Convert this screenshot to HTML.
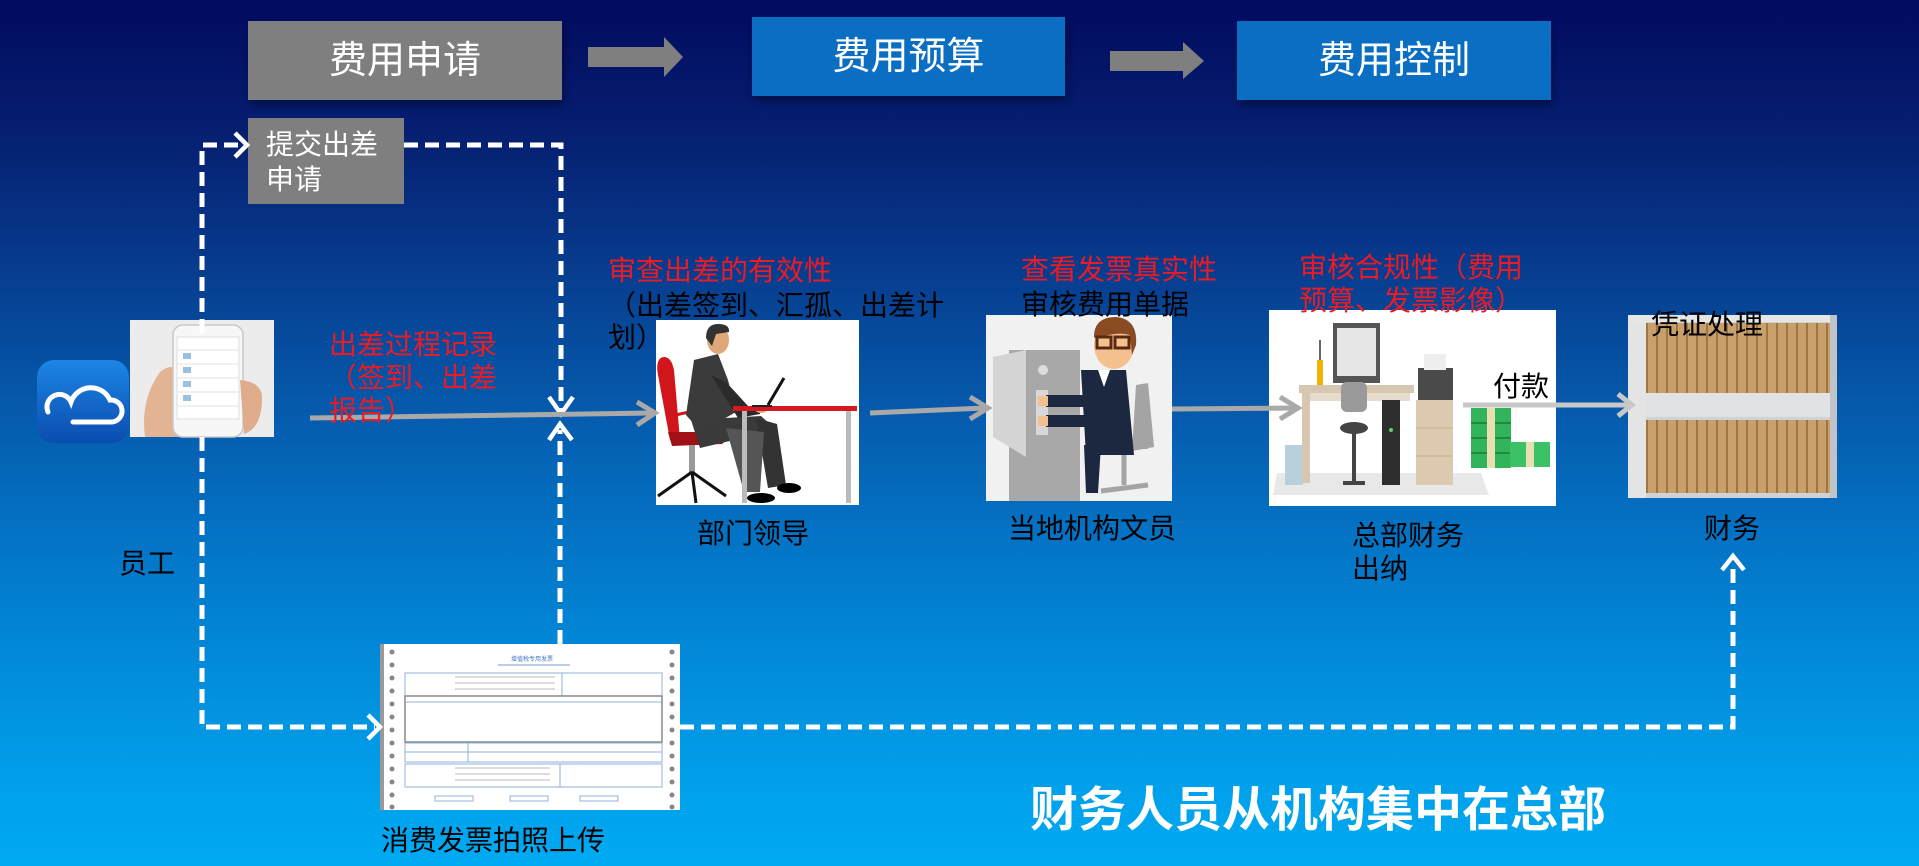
<!DOCTYPE html>
<html><head><meta charset="utf-8">
<style>
html,body{margin:0;padding:0;}
body{width:1919px;height:866px;overflow:hidden;position:relative;
background:linear-gradient(to bottom,#020b5f 0%,#061e70 15%,#073a8c 30%,#0656a8 45%,#0470c2 60%,#0288d8 75%,#019fea 90%,#00aaf2 100%);
font-family:"Liberation Sans","Noto Sans CJK SC",sans-serif;}
.box{position:absolute;display:flex;align-items:center;justify-content:center;color:#fff;font-size:38px;line-height:1;box-shadow:2px 5px 7px rgba(0,0,0,0.35);}
.t{position:absolute;font-size:28px;line-height:1;white-space:nowrap;color:#000;}
.r{color:#ea1b24;}
.w{color:#fff;}
svg{position:absolute;left:0;top:0;}
</style></head>
<body>
<div class="box" style="left:248px;top:21px;width:314px;height:79px;background:#7f7f7f;">费用申请</div>
<div class="box" style="left:752px;top:17px;width:313px;height:79px;background:#0a6fc2;">费用预算</div>
<div class="box" style="left:1237px;top:21px;width:314px;height:79px;background:#0a6fc2;">费用控制</div>
<div class="box" style="left:248px;top:118px;width:156px;height:86px;background:#7f7f7f;box-shadow:none;"></div>

<svg width="1919" height="866" viewBox="0 0 1919 866">
<defs>
<linearGradient id="cg" x1="0" y1="0" x2="0" y2="1"><stop offset="0" stop-color="#1c86e6"/><stop offset="1" stop-color="#0a4cae"/></linearGradient>
<pattern id="books" width="10" height="80" patternUnits="userSpaceOnUse"><rect width="10" height="80" fill="#c9a06c"/><rect x="8" width="2" height="80" fill="#9e7644"/></pattern>
</defs>
<!-- top block arrows -->
<polygon points="588,47 664,47 664,37 683,57 664,77 664,67 588,67" fill="#7f7f7f"/>
<polygon points="1110,51 1183,51 1183,42 1204,61 1183,79 1183,71 1110,71" fill="#7f7f7f"/>

<!-- cloud icon -->
<rect x="37" y="360" width="92" height="83" rx="17" fill="url(#cg)"/>
<path d="M48,412 A12,12 0 0 1 71,402 A21,21 0 0 1 110,400 A11,11 0 0 1 112,422 L73,422" fill="none" stroke="#fff" stroke-width="5" stroke-linecap="round"/>

<!-- phone photo -->
<rect x="130" y="320" width="144" height="117" fill="#ececec"/>
<path d="M145,437 Q140,400 160,372 Q172,362 180,372 L180,437 Z" fill="#e3b493"/>
<rect x="173" y="325" width="70" height="112" rx="10" fill="#f7f7f7" stroke="#c8c8c8" stroke-width="1.5"/>
<rect x="177" y="337" width="62" height="82" fill="#fff" stroke="#ddd"/>
<g stroke="#e2e2e2"><line x1="177" y1="350" x2="239" y2="350"/><line x1="177" y1="364" x2="239" y2="364"/><line x1="177" y1="378" x2="239" y2="378"/><line x1="177" y1="392" x2="239" y2="392"/><line x1="177" y1="406" x2="239" y2="406"/></g>
<g fill="#9cc0e0"><rect x="183" y="353" width="8" height="6"/><rect x="183" y="367" width="8" height="6"/><rect x="183" y="381" width="8" height="6"/><rect x="183" y="395" width="8" height="6"/></g>
<path d="M240,380 Q262,382 262,398 Q262,428 244,434 Z" fill="#e0ad8c"/>

<!-- 部门领导 image -->
<g transform="translate(656,320)">
<rect width="203" height="185" fill="#fff"/>
<path d="M8,37 C2,37 0,45 2,55 L14,120 L24,120 L18,50 C16,40 12,37 8,37 Z" fill="#d0161b"/>
<path d="M12,112 L70,112 Q74,118 66,124 L16,126 Z" fill="#a01015"/>
<path d="M20,95 Q60,84 64,112" stroke="#d0161b" stroke-width="3" fill="none"/>
<rect x="33" y="125" width="6" height="28" fill="#999"/>
<g stroke="#111" stroke-width="3"><line x1="36" y1="152" x2="2" y2="176"/><line x1="36" y1="152" x2="70" y2="176"/><line x1="36" y1="152" x2="40" y2="183"/></g>
<polygon points="35,100 105,96 120,110 44,128" fill="#3a3a3a"/>
<polygon points="100,98 121,104 130,165 112,168" fill="#333"/>
<polygon points="70,108 108,112 104,172 88,172" fill="#555"/>
<ellipse cx="133" cy="168" rx="12" ry="5" fill="#000"/>
<ellipse cx="105" cy="178" rx="14" ry="5" fill="#000"/>
<polygon points="38,40 62,34 72,60 80,92 45,112 30,95" fill="#3b3b3b"/>
<polygon points="55,55 70,62 92,86 104,86 104,94 82,98" fill="#2b2b2b"/>
<ellipse cx="105" cy="89" rx="6" ry="4" fill="#e0a878"/>
<ellipse cx="62" cy="20" rx="11" ry="14" fill="#e0a878"/>
<path d="M50,18 Q50,4 62,4 Q74,4 73,12 L60,14 L56,26 Z" fill="#333"/>
<rect x="77" y="86" width="124" height="5" fill="#d51a1f"/>
<rect x="86" y="91" width="5" height="92" fill="#bbb"/>
<rect x="190" y="91" width="5" height="92" fill="#bbb"/>
<line x1="112" y1="85" x2="128" y2="58" stroke="#111" stroke-width="3"/>
<line x1="96" y1="86" x2="116" y2="86" stroke="#222" stroke-width="2"/>
</g>

<!-- 当地机构文员 image -->
<g transform="translate(986,315)">
<rect width="186" height="186" fill="#f1f1f1"/>
<rect x="23" y="35" width="71" height="151" fill="#a8a8a8"/>
<polygon points="7,42 40,35 40,142 7,122" fill="#d4d4d4"/>
<circle cx="57" cy="55" r="5" fill="#dcdcdc"/>
<rect x="50" y="75" width="12" height="45" fill="#d8d8d8"/>
<polygon points="150,70 162,68 168,132 146,136" fill="#a4a4a4"/>
<rect x="108" y="124" width="54" height="10" fill="#a4a4a4"/>
<line x1="138" y1="134" x2="138" y2="170" stroke="#a4a4a4" stroke-width="5"/>
<line x1="115" y1="176" x2="162" y2="170" stroke="#a4a4a4" stroke-width="5"/>
<polygon points="95,55 140,55 148,140 100,140" fill="#1b2840"/>
<rect x="60" y="80" width="40" height="12" fill="#1b2840"/>
<rect x="60" y="100" width="40" height="12" fill="#1b2840"/>
<rect x="52" y="81" width="10" height="10" fill="#f4c08e"/>
<rect x="52" y="101" width="10" height="10" fill="#f4c08e"/>
<polygon points="98,130 115,130 112,178 100,178" fill="#1b2840"/>
<polygon points="112,55 124,55 118,72" fill="#fff"/>
<ellipse cx="128" cy="30" rx="20" ry="24" fill="#f4c08e"/>
<path d="M108,22 Q108,2 130,2 Q152,4 150,30 L146,40 L144,20 Q130,16 110,24 Z" fill="#8a4a22"/>
<rect x="111" y="22" width="14" height="11" fill="none" stroke="#5a2a10" stroke-width="3"/>
<rect x="129" y="22" width="14" height="11" fill="none" stroke="#5a2a10" stroke-width="3"/>
</g>

<!-- 总部财务 image -->
<g transform="translate(1269,310)">
<rect width="287" height="196" fill="#fff"/>
<polygon points="8,163 212,163 220,185 4,185" fill="#e8e8e8"/>
<rect x="16" y="135" width="18" height="40" fill="#b8d0dc"/>
<rect x="30" y="75" width="115" height="8" fill="#d8c7b0"/>
<rect x="33" y="83" width="8" height="90" fill="#d8c7b0"/>
<rect x="41" y="83" width="100" height="8" fill="#e6dccd"/>
<rect x="64" y="13" width="47" height="60" fill="#555"/>
<rect x="68" y="18" width="39" height="48" fill="#e6e6e6"/>
<rect x="48" y="50" width="6" height="25" fill="#f0b400"/>
<line x1="51" y1="50" x2="51" y2="30" stroke="#333" stroke-width="1.5"/>
<rect x="72" y="72" width="26" height="30" rx="6" fill="#9a9a9a"/>
<ellipse cx="85" cy="118" rx="14" ry="6" fill="#444"/>
<rect x="83" y="118" width="4" height="55" fill="#444"/>
<rect x="74" y="171" width="22" height="4" fill="#444"/>
<rect x="113" y="90" width="18" height="85" fill="#2e2e2e"/>
<circle cx="122" cy="120" r="2" fill="#6c6"/>
<rect x="147" y="90" width="37" height="85" fill="#dcc9af"/>
<g stroke="#c4ae90"><line x1="147" y1="118" x2="184" y2="118"/><line x1="147" y1="146" x2="184" y2="146"/></g>
<rect x="149" y="58" width="35" height="32" fill="#4a4a4a"/>
<rect x="155" y="44" width="22" height="16" fill="#eee"/>
<rect x="202" y="98" width="40" height="60" fill="#32b45a"/>
<g stroke="#1e8a40" stroke-width="2"><line x1="202" y1="113" x2="242" y2="113"/><line x1="202" y1="128" x2="242" y2="128"/><line x1="202" y1="143" x2="242" y2="143"/></g>
<rect x="218" y="98" width="8" height="60" fill="#e8e0b0"/>
<rect x="241" y="132" width="40" height="25" fill="#3cc266"/>
<rect x="257" y="132" width="8" height="25" fill="#e8e0b0"/>
</g>

<!-- 凭证处理 image -->
<g transform="translate(1628,315)">
<rect width="209" height="183" fill="#cfd3d6"/>
<rect x="18" y="8" width="186" height="70" fill="url(#books)"/>
<rect x="12" y="105" width="190" height="73" fill="url(#books)"/>
<rect x="0" y="78" width="209" height="24" fill="#e0e2e4"/>
<rect x="0" y="0" width="18" height="183" fill="#e4e4e4"/>
<rect x="0" y="0" width="209" height="7" fill="#e6e6e6"/>
<rect x="202" y="0" width="7" height="183" fill="#c0c4c8"/>
</g>

<!-- invoice -->
<g transform="translate(380,644)">
<rect width="300" height="166" fill="#fff"/>
<rect x="0" y="0" width="4" height="166" fill="#999"/>
<g fill="#888">
<circle cx="12" cy="8" r="2.5"/><circle cx="12" cy="21" r="2.5"/><circle cx="12" cy="34" r="2.5"/><circle cx="12" cy="47" r="2.5"/><circle cx="12" cy="60" r="2.5"/><circle cx="12" cy="73" r="2.5"/><circle cx="12" cy="86" r="2.5"/><circle cx="12" cy="99" r="2.5"/><circle cx="12" cy="112" r="2.5"/><circle cx="12" cy="125" r="2.5"/><circle cx="12" cy="138" r="2.5"/><circle cx="12" cy="151" r="2.5"/><circle cx="12" cy="163" r="2.5"/>
<circle cx="292" cy="8" r="2.5"/><circle cx="292" cy="21" r="2.5"/><circle cx="292" cy="34" r="2.5"/><circle cx="292" cy="47" r="2.5"/><circle cx="292" cy="60" r="2.5"/><circle cx="292" cy="73" r="2.5"/><circle cx="292" cy="86" r="2.5"/><circle cx="292" cy="99" r="2.5"/><circle cx="292" cy="112" r="2.5"/><circle cx="292" cy="125" r="2.5"/><circle cx="292" cy="138" r="2.5"/><circle cx="292" cy="151" r="2.5"/><circle cx="292" cy="163" r="2.5"/>
</g>
<text x="152" y="17" font-size="6" fill="#4a78c0" text-anchor="middle" font-family="Noto Sans CJK SC, sans-serif">增值税专用发票</text>
<line x1="118" y1="21" x2="190" y2="21" stroke="#7a9ad0"/>
<g fill="none" stroke="#8fb0d8" stroke-width="1">
<rect x="25" y="29" width="257" height="23"/>
<line x1="182" y1="29" x2="182" y2="52"/>
<rect x="25" y="52" width="257" height="46" stroke="#888" stroke-width="1.5"/>
<line x1="25" y1="58" x2="282" y2="58"/>
<rect x="25" y="99" width="257" height="19"/>
<line x1="25" y1="108" x2="282" y2="108"/>
<line x1="88" y1="99" x2="88" y2="118"/>
<rect x="25" y="120" width="257" height="23"/>
<line x1="180" y1="120" x2="180" y2="143"/>
<rect x="55" y="152" width="38" height="5"/><rect x="130" y="152" width="38" height="5"/><rect x="200" y="152" width="38" height="5"/>
</g>
<g stroke="#bbb"><line x1="75" y1="33" x2="175" y2="33"/><line x1="75" y1="39" x2="175" y2="39"/><line x1="75" y1="45" x2="175" y2="45"/><line x1="75" y1="124" x2="170" y2="124"/><line x1="75" y1="130" x2="170" y2="130"/><line x1="75" y1="136" x2="170" y2="136"/></g>
</g>

<!-- dashed connectors -->
<g fill="none" stroke="#fff" stroke-width="5" stroke-dasharray="14 7">
<polyline points="202,333 202,145 240,145"/>
<polyline points="404,145 561,145 561,410"/>
<polyline points="560,644 560,430"/>
<polyline points="202,437 202,727 375,727"/>
<polyline points="680,727 1733,727 1733,562"/>
</g>
<g fill="none" stroke="#fff" stroke-width="4.5" stroke-linejoin="miter">
<polyline points="235,133 247,145 235,157"/>
<polyline points="549,397 561,414 573,397"/>
<polyline points="549,440 560,424 572,440"/>
<polyline points="368,715 380,727 368,739"/>
<polyline points="1722,570 1733,556 1744,570"/>
</g>

<!-- gray solid connectors -->
<g fill="none" stroke="#a9a9a9" stroke-width="5">
<line x1="310" y1="418" x2="652" y2="413"/>
<polyline points="637,402 655,413 637,425"/>
<line x1="870" y1="413" x2="985" y2="408"/>
<polyline points="970,397 988,408 970,419"/>
<line x1="1172" y1="409" x2="1295" y2="408"/>
<polyline points="1280,397 1298,408 1280,419"/>
</g>
<g fill="none" stroke="#c8c8c8" stroke-width="5">
<line x1="1463" y1="405" x2="1629" y2="405"/>
<polyline points="1618,394 1632,405 1618,416"/>
</g>
</svg>

<div class="t w" style="left:266px;top:131px;">提交出差</div>
<div class="t w" style="left:266px;top:166px;">申请</div>

<div class="t r" style="left:329px;top:331px;">出差过程记录</div>
<div class="t r" style="left:329px;top:364px;">（签到、出差</div>
<div class="t r" style="left:329px;top:397px;">报告）</div>

<div class="t r" style="left:608px;top:257px;">审查出差的有效性</div>
<div class="t" style="left:608px;top:292px;">（出差签到、汇孤、出差计</div>
<div class="t" style="left:608px;top:324px;">划）</div>

<div class="t r" style="left:1021px;top:256px;">查看发票真实性</div>
<div class="t" style="left:1021px;top:291px;">审核费用单据</div>

<div class="t r" style="left:1299px;top:254px;">审核合规性（费用</div>
<div class="t r" style="left:1299px;top:287px;">预算、发票影像）</div>

<div class="t" style="left:1493px;top:373px;">付款</div>
<div class="t" style="left:1651px;top:311px;">凭证处理</div>

<div class="t" style="left:697px;top:520px;">部门领导</div>
<div class="t" style="left:1008px;top:515px;">当地机构文员</div>
<div class="t" style="left:1352px;top:522px;">总部财务</div>
<div class="t" style="left:1352px;top:555px;">出纳</div>
<div class="t" style="left:1704px;top:515px;">财务</div>
<div class="t" style="left:119px;top:550px;">员工</div>
<div class="t" style="left:381px;top:827px;">消费发票拍照上传</div>

<div class="t w" style="left:1030px;top:787px;font-size:48px;font-weight:bold;">财务人员从机构集中在总部</div>
</body></html>
